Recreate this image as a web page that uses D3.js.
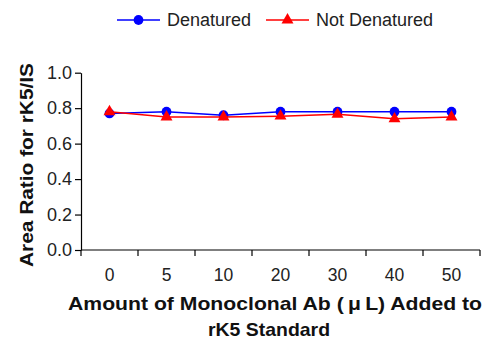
<!DOCTYPE html>
<html>
<head>
<meta charset="utf-8">
<script src="https://cdn.jsdelivr.net/npm/d3@7"></script>
<style>
  body { margin: 0; background: #fff; }
  text { font-family: Arial, "Liberation Sans", sans-serif; }
</style>
</head>
<body>
<div id="chart"></div>
<script>
const amounts = ["0", "5", "10", "20", "30", "40", "50"];
const denatured = [0.77, 0.78, 0.76, 0.78, 0.78, 0.78, 0.78];
const notDenatured = [0.78, 0.75, 0.75, 0.755, 0.765, 0.74, 0.75];
const yTicks = [0, 0.2, 0.4, 0.6, 0.8, 1.0];

const w = 486, h = 341;
const mLeft = 81, mRight = 480, mTop = 72.7, mBottom = 250;

const svg = d3.select("#chart").append("svg")
  .attr("width", w)
  .attr("height", h);

const x = d3.scaleBand().domain(amounts).range([mLeft, mRight]);
const y = d3.scaleLinear().domain([0, 1]).range([mBottom, mTop]);

// y axis
const yAxis = svg.append("g")
  .attr("transform", `translate(${mLeft},0)`)
  .call(d3.axisLeft(y).tickValues(yTicks).tickFormat(d3.format(".1f")).tickSize(6).tickSizeOuter(0));
yAxis.selectAll("text").attr("font-size", 18).attr("fill", "#222");
yAxis.selectAll("path, line").attr("stroke", "#000").attr("stroke-width", 1.2);

// x axis: ticks on band edges
const xAxis = svg.append("g")
  .attr("transform", `translate(0,${mBottom})`);
xAxis.append("line")
  .attr("x1", mLeft).attr("x2", mRight)
  .attr("stroke", "#000").attr("stroke-width", 1.2);
const edges = amounts.map(d => x(d)).concat([mRight]);
xAxis.selectAll(".tk")
  .data(edges)
  .enter()
  .append("line")
  .attr("x1", d => d).attr("x2", d => d)
  .attr("y1", 0).attr("y2", 6)
  .attr("stroke", "#000").attr("stroke-width", 1.2);
xAxis.selectAll(".lbl")
  .data(amounts)
  .enter()
  .append("text")
  .attr("x", d => x(d) + x.bandwidth() / 2)
  .attr("y", 31)
  .attr("text-anchor", "middle")
  .attr("font-size", 17.5)
  .attr("fill", "#222")
  .text(d => d);

// axis titles
svg.append("text")
  .attr("transform", "translate(33,165) rotate(-90)")
  .attr("text-anchor", "middle")
  .attr("font-size", 19)
  .attr("font-weight", "bold")
  .attr("fill", "#111")
  .attr("textLength", 204)
  .attr("lengthAdjust", "spacingAndGlyphs")
  .text("Area Ratio for rK5/IS");

svg.append("text")
  .attr("x", 275).attr("y", 310)
  .attr("text-anchor", "middle")
  .attr("font-size", 18.5)
  .attr("font-weight", "bold")
  .attr("fill", "#111")
  .attr("textLength", 414)
  .attr("lengthAdjust", "spacingAndGlyphs")
  .text("Amount of Monoclonal Ab (\u2009\u03BC\u2009L) Added to");
svg.append("text")
  .attr("x", 269).attr("y", 336)
  .attr("text-anchor", "middle")
  .attr("font-size", 18.5)
  .attr("font-weight", "bold")
  .attr("fill", "#111")
  .attr("textLength", 122)
  .attr("lengthAdjust", "spacingAndGlyphs")
  .text("rK5 Standard");

const cx = d => x(d) + x.bandwidth() / 2;
const series = [
  { name: "Denatured", values: denatured, color: "#0000ff", shape: d3.symbolCircle, size: 75 },
  { name: "Not Denatured", values: notDenatured, color: "#ff0000", shape: d3.symbolTriangle, size: 62 }
];

series.forEach(s => {
  const line = d3.line()
    .x((d, i) => cx(amounts[i]))
    .y(d => y(d));
  svg.append("path")
    .datum(s.values)
    .attr("d", line)
    .attr("fill", "none")
    .attr("stroke", s.color)
    .attr("stroke-width", 1.5);
  svg.selectAll(null)
    .data(s.values)
    .enter()
    .append("path")
    .attr("d", d3.symbol().type(s.shape).size(s.size))
    .attr("transform", (d, i) => `translate(${cx(amounts[i])},${y(d)})`)
    .attr("fill", s.color);
});

// legend
const legendPos = [117, 266];
series.forEach((s, i) => {
  const g = svg.append("g").attr("transform", `translate(${legendPos[i]},20)`);
  g.append("line").attr("x1", 0).attr("x2", 43).attr("stroke", s.color).attr("stroke-width", 1.5);
  g.append("path")
    .attr("d", d3.symbol().type(s.shape).size(s.size))
    .attr("transform", "translate(21.5,0)")
    .attr("fill", s.color);
  g.append("text")
    .attr("x", 50).attr("y", 6)
    .attr("font-size", 18)
    .attr("fill", "#222")
    .text(s.name);
});
</script>
</body>
</html>
